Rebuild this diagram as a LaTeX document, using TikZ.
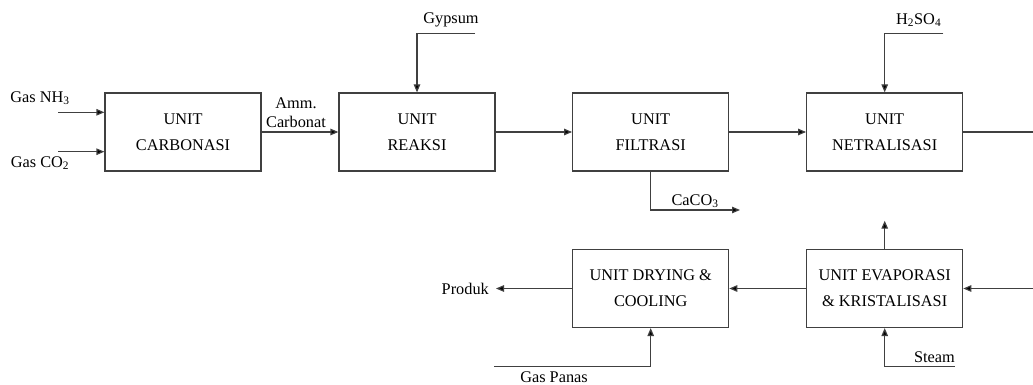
\documentclass[tikz,border=0pt]{standalone}
\usepackage{fontspec}
\setmainfont{Liberation Serif}
\usetikzlibrary{arrows.meta}
\begin{document}
\begin{tikzpicture}[x=1pt,y=-1pt,
  unitbox/.style={draw=black!75,line width=1.2pt,minimum width=156pt,minimum height=78pt,
    inner sep=0pt,align=center,font=\fontsize{16.3}{26}\selectfont},
  lbl/.style={inner sep=0pt,font=\fontsize{16.3}{19}\selectfont,align=center},
  flow/.style={draw=black!75,line width=1.2pt,-{Triangle[length=8pt,width=6.5pt,fill=black]}},
  plain/.style={draw=black!75,line width=1.2pt}]
\useasboundingbox (0,0) rectangle (1033,385);
% boxes
\node[unitbox] (carb) at (183,132) {UNIT\\CARBONASI};
\node[unitbox] (reak) at (417,132) {UNIT\\REAKSI};
\node[unitbox] (filt) at (650.7,132) {UNIT\\FILTRASI};
\node[unitbox] (netr) at (884.7,132) {UNIT\\NETRALISASI};
\node[unitbox] (dry) at (650.7,288.5) {UNIT DRYING \&\\COOLING};
\node[unitbox] (evap) at (884.7,288.5) {UNIT EVAPORASI\\\& KRISTALISASI};
% coordinates
\coordinate (nh3s) at (58,112.3);
\coordinate (co2s) at (58,151.7);
\coordinate (gyps) at (475,33.3);
\coordinate (gypc) at (417,33.3);
\coordinate (h2s) at (943.3,33.3);
\coordinate (h2c) at (884.7,33.3);
\coordinate (netro) at (1033,132);
\coordinate (evapi) at (1033,288.5);
\coordinate (cacoc) at (650.7,210);
\coordinate (cacoe) at (740,210);
\coordinate (vap) at (884.7,220.7);
\coordinate (prod) at (496,288.5);
\coordinate (gps) at (494,366.7);
\coordinate (gpc) at (650.7,366.7);
\coordinate (sts) at (955,366.7);
\coordinate (stc) at (884.7,366.7);
% labels
\node[lbl] (lnh3) at (40,98) {Gas NH\textsubscript{3}};
\node[lbl] (lco2) at (40,163.3) {Gas CO\textsubscript{2}};
\node[lbl] (lamm) at (296,112.8) {Amm.\\Carbonat};
\node[lbl] (lgyp) at (451,20) {Gypsum};
\node[lbl] (lh2) at (918.7,20) {H\textsubscript{2}SO\textsubscript{4}};
\node[lbl] (lcaco) at (695,201) {CaCO\textsubscript{3}};
\node[lbl,anchor=east] (lprod) at (489,289) {Produk};
\node[lbl] (lgp) at (554,377) {Gas Panas};
\node[lbl,anchor=east] (lst) at (955,357) {Steam};
% connectors
\draw[flow] (nh3s) -- (nh3s -| carb.west);
\draw[flow] (co2s) -- (co2s -| carb.west);
\draw[flow] (carb.east) -- (reak.west);
\draw[flow] (reak.east) -- (filt.west);
\draw[flow] (filt.east) -- (netr.west);
\draw[flow] (gyps) -- (gypc) -- (reak.north);
\draw[flow] (h2s) -- (h2c) -- (netr.north);
\draw[plain] (netr.east) -- (netro);
\draw[flow] (filt.south) -- (cacoc) -- (cacoe);
\draw[flow] (evapi) -- (evap.east);
\draw[flow] (evap.north) -- (vap);
\draw[flow] (evap.west) -- (dry.east);
\draw[flow] (dry.west) -- (prod);
\draw[flow] (gps) -- (gpc) -- (dry.south);
\draw[flow] (sts) -- (stc) -- (evap.south);
\end{tikzpicture}
\end{document}
